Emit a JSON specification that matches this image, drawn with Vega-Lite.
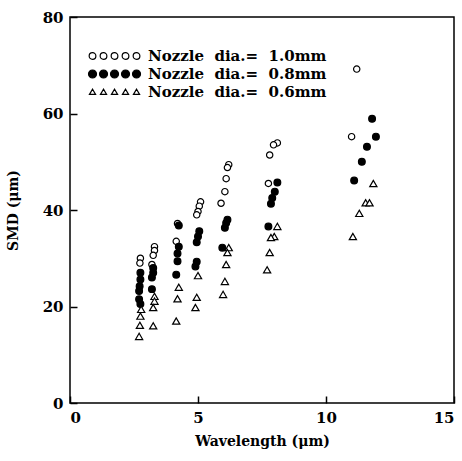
{
  "$schema": "https://vega.github.io/schema/vega-lite/v6.json",
  "autosize": {"type": "none"},
  "padding": {"left": 70, "top": 17, "right": 8, "bottom": 58},
  "width": 384,
  "height": 386,
  "background": "white",
  "config": {
    "view": {"stroke": "black", "strokeWidth": 1.5},
    "font": "DejaVu Serif",
    "axis": {
      "grid": false,
      "domain": false,
      "ticks": true,
      "offset": -7,
      "tickColor": "black",
      "tickSize": 7,
      "tickWidth": 1.5,
      "labelFont": "DejaVu Serif",
      "labelFontWeight": "bold",
      "labelFontSize": 15,
      "labelColor": "black",
      "titleFont": "DejaVu Serif",
      "titleFontWeight": "bold",
      "titleFontSize": 14,
      "titleColor": "black"
    },
    "legend": {
      "orient": "none",
      "legendX": 18,
      "legendY": 30,
      "title": null,
      "labelFont": "DejaVu Serif",
      "labelFontWeight": "bold",
      "labelFontSize": 15,
      "labelColor": "black",
      "labelOffset": 42,
      "labelLimit": 400,
      "rowPadding": 1,
      "symbolSize": 256,
      "symbolStrokeWidth": 1.2
    }
  },
  "data": {
    "values": [
      {"w": 2.75, "smd": 30.0, "nozzle": "1.0"},
      {"w": 2.73, "smd": 29.0, "nozzle": "1.0"},
      {"w": 3.3, "smd": 32.4, "nozzle": "1.0"},
      {"w": 3.3, "smd": 31.6, "nozzle": "1.0"},
      {"w": 3.25, "smd": 30.6, "nozzle": "1.0"},
      {"w": 3.2, "smd": 28.7, "nozzle": "1.0"},
      {"w": 4.2, "smd": 37.2, "nozzle": "1.0"},
      {"w": 4.15, "smd": 33.5, "nozzle": "1.0"},
      {"w": 5.1, "smd": 41.7, "nozzle": "1.0"},
      {"w": 5.05, "smd": 40.8, "nozzle": "1.0"},
      {"w": 5.0, "smd": 39.7, "nozzle": "1.0"},
      {"w": 4.95, "smd": 39.0, "nozzle": "1.0"},
      {"w": 6.2, "smd": 49.4, "nozzle": "1.0"},
      {"w": 6.15, "smd": 48.8, "nozzle": "1.0"},
      {"w": 6.1, "smd": 46.5, "nozzle": "1.0"},
      {"w": 6.05, "smd": 43.8, "nozzle": "1.0"},
      {"w": 5.9, "smd": 41.4, "nozzle": "1.0"},
      {"w": 8.1, "smd": 53.9, "nozzle": "1.0"},
      {"w": 7.95, "smd": 53.5, "nozzle": "1.0"},
      {"w": 7.8, "smd": 51.4, "nozzle": "1.0"},
      {"w": 7.75, "smd": 45.5, "nozzle": "1.0"},
      {"w": 11.2, "smd": 69.2, "nozzle": "1.0"},
      {"w": 11.0, "smd": 55.2, "nozzle": "1.0"},
      {"w": 2.75, "smd": 27.0, "nozzle": "0.8"},
      {"w": 2.75, "smd": 25.6, "nozzle": "0.8"},
      {"w": 2.72, "smd": 24.2, "nozzle": "0.8"},
      {"w": 2.7, "smd": 23.2, "nozzle": "0.8"},
      {"w": 2.7, "smd": 21.5, "nozzle": "0.8"},
      {"w": 2.75, "smd": 20.5, "nozzle": "0.8"},
      {"w": 3.25, "smd": 28.0, "nozzle": "0.8"},
      {"w": 3.25, "smd": 27.0, "nozzle": "0.8"},
      {"w": 3.2, "smd": 26.0, "nozzle": "0.8"},
      {"w": 3.2, "smd": 23.6, "nozzle": "0.8"},
      {"w": 4.25, "smd": 36.8, "nozzle": "0.8"},
      {"w": 4.25, "smd": 32.4, "nozzle": "0.8"},
      {"w": 4.2, "smd": 31.0, "nozzle": "0.8"},
      {"w": 4.2, "smd": 29.4, "nozzle": "0.8"},
      {"w": 4.15, "smd": 26.6, "nozzle": "0.8"},
      {"w": 5.05, "smd": 35.6, "nozzle": "0.8"},
      {"w": 5.0, "smd": 34.5, "nozzle": "0.8"},
      {"w": 4.95, "smd": 33.3, "nozzle": "0.8"},
      {"w": 4.95, "smd": 29.3, "nozzle": "0.8"},
      {"w": 4.9, "smd": 28.3, "nozzle": "0.8"},
      {"w": 6.15, "smd": 38.0, "nozzle": "0.8"},
      {"w": 6.1, "smd": 37.3, "nozzle": "0.8"},
      {"w": 6.05, "smd": 36.3, "nozzle": "0.8"},
      {"w": 5.95, "smd": 32.2, "nozzle": "0.8"},
      {"w": 8.1, "smd": 45.7, "nozzle": "0.8"},
      {"w": 8.0, "smd": 43.8, "nozzle": "0.8"},
      {"w": 7.9, "smd": 42.5, "nozzle": "0.8"},
      {"w": 7.85, "smd": 41.3, "nozzle": "0.8"},
      {"w": 7.75, "smd": 36.6, "nozzle": "0.8"},
      {"w": 11.8, "smd": 58.9, "nozzle": "0.8"},
      {"w": 11.95, "smd": 55.2, "nozzle": "0.8"},
      {"w": 11.6, "smd": 53.1, "nozzle": "0.8"},
      {"w": 11.4, "smd": 50.0, "nozzle": "0.8"},
      {"w": 11.1, "smd": 46.1, "nozzle": "0.8"},
      {"w": 2.78, "smd": 19.4, "nozzle": "0.6"},
      {"w": 2.75, "smd": 18.0, "nozzle": "0.6"},
      {"w": 2.73, "smd": 16.1, "nozzle": "0.6"},
      {"w": 2.7, "smd": 13.8, "nozzle": "0.6"},
      {"w": 3.3, "smd": 22.1, "nozzle": "0.6"},
      {"w": 3.3, "smd": 21.1, "nozzle": "0.6"},
      {"w": 3.25, "smd": 19.8, "nozzle": "0.6"},
      {"w": 3.25, "smd": 16.0, "nozzle": "0.6"},
      {"w": 4.25, "smd": 24.0, "nozzle": "0.6"},
      {"w": 4.2, "smd": 21.6, "nozzle": "0.6"},
      {"w": 4.15, "smd": 17.0, "nozzle": "0.6"},
      {"w": 5.0, "smd": 26.4, "nozzle": "0.6"},
      {"w": 4.95, "smd": 21.9, "nozzle": "0.6"},
      {"w": 4.9, "smd": 19.8, "nozzle": "0.6"},
      {"w": 6.2, "smd": 32.2, "nozzle": "0.6"},
      {"w": 6.15, "smd": 31.2, "nozzle": "0.6"},
      {"w": 6.1, "smd": 28.7, "nozzle": "0.6"},
      {"w": 6.05, "smd": 25.2, "nozzle": "0.6"},
      {"w": 5.98, "smd": 22.5, "nozzle": "0.6"},
      {"w": 8.1, "smd": 36.6, "nozzle": "0.6"},
      {"w": 7.98, "smd": 34.5, "nozzle": "0.6"},
      {"w": 7.85, "smd": 34.3, "nozzle": "0.6"},
      {"w": 7.8, "smd": 31.2, "nozzle": "0.6"},
      {"w": 7.7, "smd": 27.6, "nozzle": "0.6"},
      {"w": 11.85, "smd": 45.5, "nozzle": "0.6"},
      {"w": 11.55, "smd": 41.5, "nozzle": "0.6"},
      {"w": 11.7, "smd": 41.5, "nozzle": "0.6"},
      {"w": 11.3, "smd": 39.3, "nozzle": "0.6"},
      {"w": 11.05, "smd": 34.5, "nozzle": "0.6"}
    ]
  },
  "encoding": {
    "x": {
      "field": "w", "type": "quantitative",
      "scale": {"domain": [0, 15], "nice": false, "zero": false},
      "axis": {"values": [0, 5, 10, 15], "title": "Wavelength (μm)", "titlePadding": 9, "labelPadding": 7, "format": "d"}
    },
    "y": {
      "field": "smd", "type": "quantitative",
      "scale": {"domain": [0, 80], "nice": false},
      "axis": {"values": [0, 20, 40, 60, 80], "title": "SMD (μm)", "titlePadding": 22, "labelPadding": 7}
    }
  },
  "layer": [
    {
      "mark": {"type": "point", "filled": true, "stroke": "black", "strokeWidth": 1.2, "opacity": 1},
      "encoding": {
        "shape": {"field": "nozzle", "type": "nominal", "scale": {"domain": ["1.0", "0.8", "0.6"], "range": ["circle", "circle", "triangle-up"]}, "legend": null},
        "fill": {"field": "nozzle", "type": "nominal", "scale": {"domain": ["1.0", "0.8", "0.6"], "range": ["white", "black", "white"]}, "legend": null},
        "size": {"field": "nozzle", "type": "nominal", "scale": {"domain": ["1.0", "0.8", "0.6"], "range": [40, 52, 30]}, "legend": null}
      }
    },
    {
      "transform": [{"filter": "false"}],
      "mark": {"type": "point", "filled": true, "stroke": "black", "strokeWidth": 1.2, "opacity": 1},
      "encoding": {
        "shape": {
          "field": "nozzle", "type": "nominal",
          "scale": {"domain": ["1.0", "0.8", "0.6"], "range": [
            "M-0.98,0A0.42,0.42,0,1,0,-0.14,0A0.42,0.42,0,1,0,-0.98,0Z M0.395,0A0.42,0.42,0,1,0,1.235,0A0.42,0.42,0,1,0,0.395,0Z M1.77,0A0.42,0.42,0,1,0,2.61,0A0.42,0.42,0,1,0,1.77,0Z M3.145,0A0.42,0.42,0,1,0,3.985,0A0.42,0.42,0,1,0,3.145,0Z M4.52,0A0.42,0.42,0,1,0,5.36,0A0.42,0.42,0,1,0,4.52,0Z",
            "M-1.06,0A0.5,0.5,0,1,0,-0.06,0A0.5,0.5,0,1,0,-1.06,0Z M0.315,0A0.5,0.5,0,1,0,1.315,0A0.5,0.5,0,1,0,0.315,0Z M1.69,0A0.5,0.5,0,1,0,2.69,0A0.5,0.5,0,1,0,1.69,0Z M3.065,0A0.5,0.5,0,1,0,4.065,0A0.5,0.5,0,1,0,3.065,0Z M4.44,0A0.5,0.5,0,1,0,5.44,0A0.5,0.5,0,1,0,4.44,0Z",
            "M-0.94,0.3L-0.56,-0.34L-0.18,0.3Z M0.435,0.3L0.815,-0.34L1.195,0.3Z M1.81,0.3L2.19,-0.34L2.57,0.3Z M3.185,0.3L3.565,-0.34L3.945,0.3Z M4.56,0.3L4.94,-0.34L5.32,0.3Z"
          ]},
          "legend": {"labelExpr": "'Nozzle\u00a0 dia.=\u00a0 ' + datum.label + 'mm'"}
        },
        "fill": {"field": "nozzle", "type": "nominal", "scale": {"domain": ["1.0", "0.8", "0.6"], "range": ["white", "black", "white"]}, "legend": {"labelExpr": "'Nozzle\u00a0 dia.=\u00a0 ' + datum.label + 'mm'"}}
      }
    }
  ],
  "resolve": {"scale": {"shape": "independent", "fill": "independent", "size": "independent"}, "legend": {"shape": "independent", "fill": "independent"}}
}
